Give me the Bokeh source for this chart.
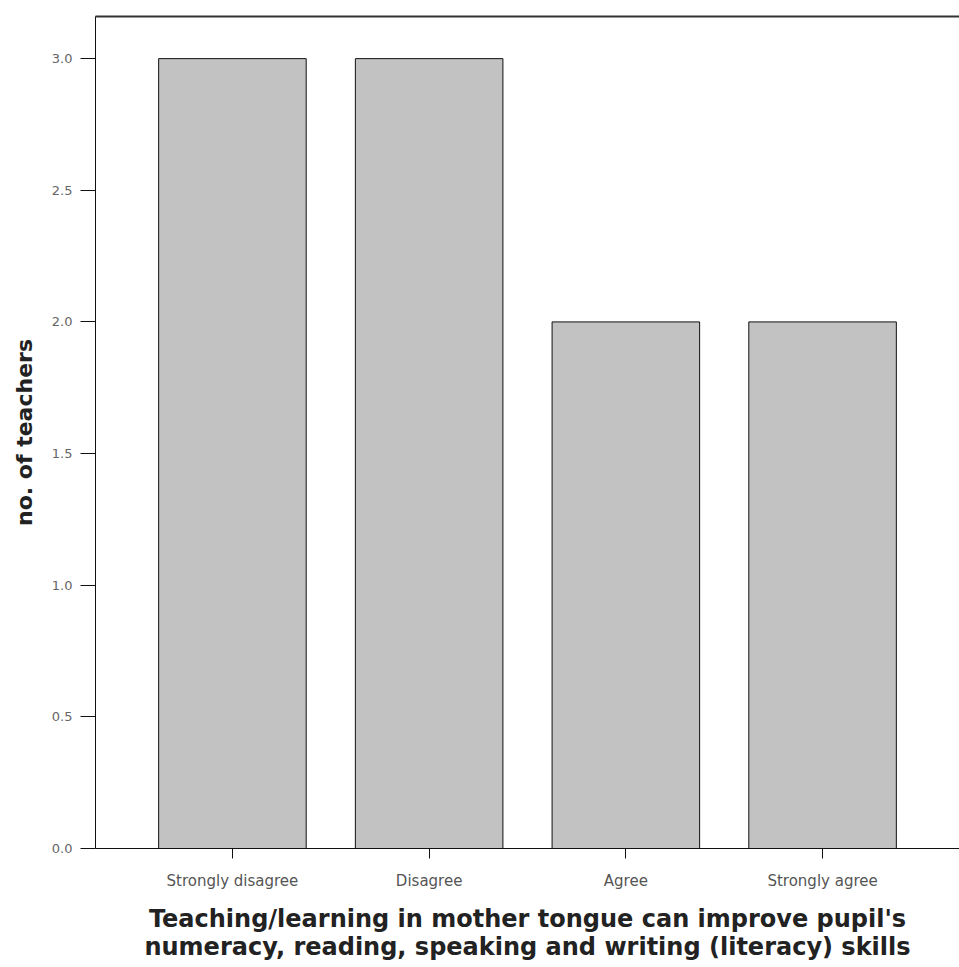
from bokeh.plotting import figure
from bokeh.models import (FactorRange, Range1d, FixedTicker, NumeralTickFormatter,
                          ColumnDataSource, LinearAxis)
from bokeh.embed import file_html
from bokeh.resources import INLINE

categories = ["Strongly disagree", "Disagree", "Agree", "Strongly agree"]
counts = [3, 3, 2, 2]
y_ticks = [0.0, 0.5, 1.0, 1.5, 2.0, 2.5, 3.0]

source = ColumnDataSource(data=dict(cat=categories, n=counts))

p = figure(
    width=959, height=967,
    x_range=FactorRange(factors=categories, range_padding=0.098),
    y_range=Range1d(0, 3.16),
    output_backend="svg", toolbar_location=None,
    min_border_left=95, min_border_right=0, min_border_top=16, min_border_bottom=119,
)

p.vbar(x="cat", top="n", width=0.75, source=source,
       fill_color="#c2c2c2", line_color="#111111", line_width=1)

p.outline_line_color = None
p.xgrid.grid_line_color = None
p.ygrid.grid_line_color = None
p.background_fill_color = "white"
p.border_fill_color = "white"

# top frame line (only the top edge is visible in the reference)
top = LinearAxis(ticker=FixedTicker(ticks=[]), major_tick_out=0, major_tick_in=0,
                 minor_tick_out=0, minor_tick_in=0, major_label_standoff=0,
                 major_label_text_font_size="0px", axis_line_color="#333333",
                 axis_line_width=2)
p.add_layout(top, "above")

# y axis
p.yaxis.ticker = FixedTicker(ticks=y_ticks)
p.yaxis.formatter = NumeralTickFormatter(format="0.0")
p.yaxis.minor_tick_line_color = None
p.yaxis.major_tick_out = 15
p.yaxis.major_tick_in = 0
p.yaxis.major_tick_line_color = "#111111"
p.yaxis.axis_line_color = "#111111"
p.yaxis.major_label_text_font = "DejaVu Sans"
p.yaxis.major_label_text_font_size = "13px"
p.yaxis.major_label_text_color = "#666666"
p.yaxis.major_label_standoff = 8
p.yaxis.axis_label = "no. of teachers"
p.yaxis.axis_label_text_font = "DejaVu Sans"
p.yaxis.axis_label_text_font_style = "bold"
p.yaxis.axis_label_text_font_size = "22px"
p.yaxis.axis_label_text_color = "#222222"
p.yaxis.axis_label_standoff = 12

# x axis
xa = p.below[0]
xa.major_tick_out = 10
xa.major_tick_in = 0
xa.major_tick_line_color = "#111111"
xa.axis_line_color = "#111111"
xa.major_label_text_font = "DejaVu Sans"
xa.major_label_text_font_size = "15px"
xa.major_label_text_color = "#555555"
xa.major_label_standoff = 13
xa.axis_label = ("Teaching/learning in mother tongue can improve pupil's\n"
                 "numeracy, reading, speaking and writing (literacy) skills")
xa.axis_label_text_font = "DejaVu Sans"
xa.axis_label_text_font_style = "bold"
xa.axis_label_text_font_size = "24px"
xa.axis_label_text_line_height = 1.0
xa.axis_label_text_color = "#222222"
xa.axis_label_standoff = 12

open("out.html", "w").write(file_html(p, INLINE))
